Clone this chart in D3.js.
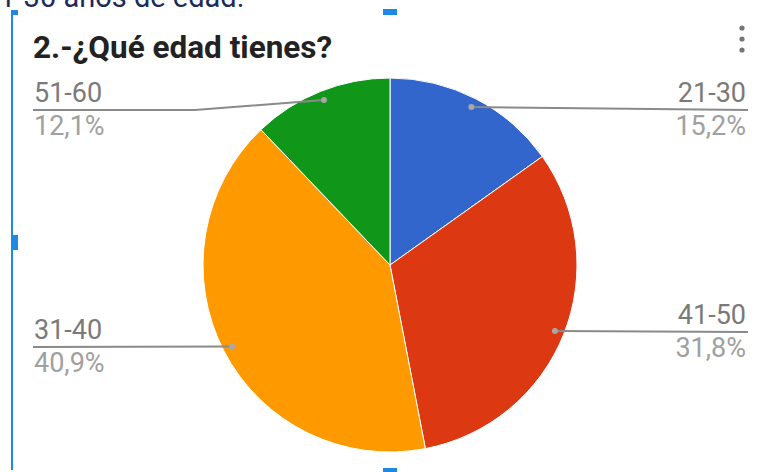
<!DOCTYPE html>
<html><head><meta charset="utf-8">
<script src="https://cdn.jsdelivr.net/npm/d3@7"></script>
<style>body{margin:0;background:#fff;}svg{display:block;font-family:Roboto,"Noto Sans",sans-serif;}</style>
</head><body>
<svg id="c" width="757" height="472"></svg>
<script>
const categories = ["21-30", "41-50", "31-40", "51-60"];
const counts = [10, 21, 27, 8];
const percentLabels = ["15,2%", "31,8%", "40,9%", "12,1%"];
const colors = ["#3366cc", "#dc3912", "#ff9900", "#109618"];
const title = "2.-¿Qué edad tienes?";
const topText = "21-30 años de edad.";

const svg = d3.select("#c");
const cx = 390, cy = 265, R = 187;

// cut-off text at top (partially visible in the reference screenshot)
svg.append("text").attr("x", -17).attr("y", 7).attr("font-size", 29).attr("fill", "#1b2a5a").text(topText);

// selection frame
svg.append("rect").attr("x", 11).attr("y", 10).attr("width", 2).attr("height", 460).attr("fill", "#1e88e5");
svg.append("rect").attr("x", 11).attr("y", 10).attr("width", 7).attr("height", 5).attr("fill", "#1e88e5");
svg.append("rect").attr("x", 12).attr("y", 235).attr("width", 6).attr("height", 15).attr("fill", "#1e88e5");
svg.append("rect").attr("x", 383).attr("y", 9).attr("width", 14).attr("height", 6).attr("fill", "#1e88e5");
svg.append("rect").attr("x", 383).attr("y", 468).attr("width", 14).attr("height", 4).attr("fill", "#1e88e5");

// title
svg.append("text").attr("x", 33).attr("y", 58).attr("font-size", 31.5).attr("font-weight", "bold")
  .attr("fill", "#222222").text(title);

// menu dots
[28, 39, 50].forEach(y => svg.append("circle").attr("cx", 742).attr("cy", y).attr("r", 2.6).attr("fill", "#757575"));

const pie = d3.pie().sort(null).value(d => d)(counts);
const arc = d3.arc().innerRadius(0).outerRadius(R);
const g = svg.append("g").attr("transform", `translate(${cx},${cy})`);
g.selectAll("path").data(pie).join("path")
  .attr("d", arc).attr("fill", (d, i) => colors[i])
  .attr("stroke", "#fff").attr("stroke-width", 1);

// labels layout: side and line y
const layout = [
  {side: "right", lineY: 110, elbowX: null},
  {side: "right", lineY: 332, elbowX: null},
  {side: "left", lineY: 347, elbowX: null},
  {side: "left", lineY: 110, elbowX: 195}
];
const dotArc = d3.arc().innerRadius(R * 0.95).outerRadius(R * 0.95);
pie.forEach((d, i) => {
  const [dx, dy] = dotArc.centroid(d);
  const px = cx + dx, py = cy + dy;
  const L = layout[i];
  const endX = L.side === "right" ? 748 : 33;
  const pts = L.elbowX ? [[px, py], [L.elbowX, L.lineY], [endX, L.lineY]] : [[px, py], [endX, L.lineY]];
  svg.append("path").attr("d", d3.line()(pts)).attr("fill", "none").attr("stroke", "#8a8a8a").attr("stroke-width", 2);
  svg.append("circle").attr("cx", px).attr("cy", py).attr("r", 3).attr("fill", "#a8a8a8");
  const tx = L.side === "right" ? 746 : 34;
  const anchor = L.side === "right" ? "end" : "start";
  svg.append("text").attr("x", tx).attr("y", L.lineY - 8).attr("text-anchor", anchor)
    .attr("font-size", 27).attr("fill", "#7a7a7a").text(categories[i]);
  svg.append("text").attr("x", tx).attr("y", L.lineY + 25).attr("text-anchor", anchor)
    .attr("font-size", 27).attr("fill", "#a0a0a0").text(percentLabels[i]);
});
</script>
</body></html>
